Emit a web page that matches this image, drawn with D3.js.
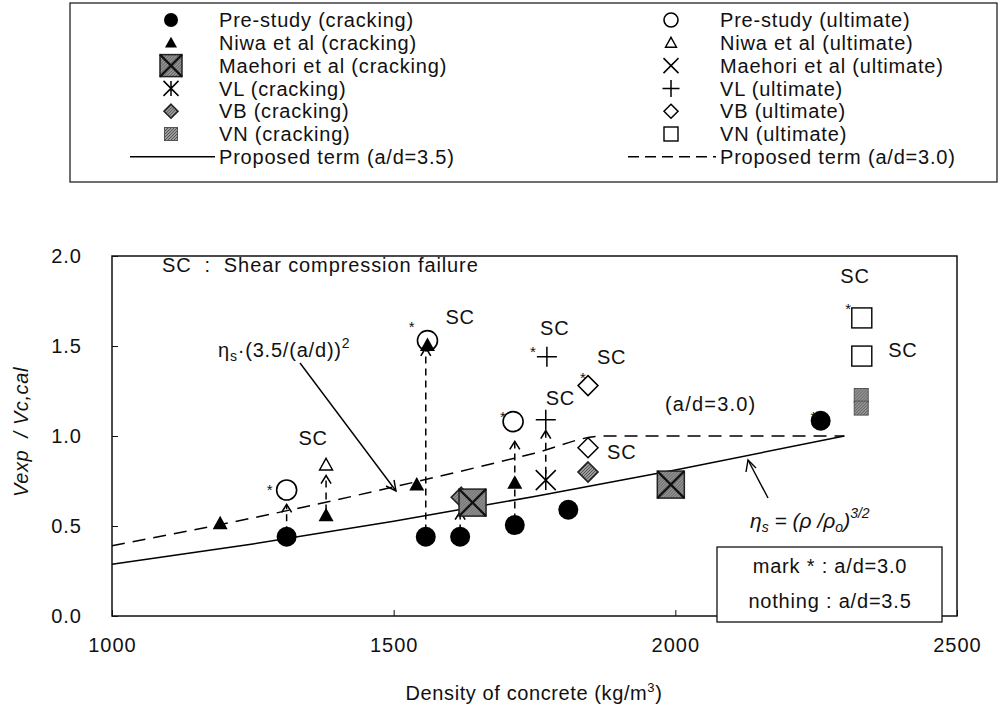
<!DOCTYPE html>
<html>
<head>
<meta charset="UTF-8">
<script src="https://d3js.org/d3.v7.min.js"></script>
<style>
  body { margin: 0; background: #fff; }
  text { font-family: "Liberation Sans", Arial, sans-serif; fill: #111; }
</style>
</head>
<body>
<div class="myDiv"></div>
<script>
// ---- data ----
var xTicks = [1000, 1500, 2000, 2500];
var yTicks = [0.0, 0.5, 1.0, 1.5, 2.0];

var preCrack = [[1310, 0.44], [1557, 0.44], [1618, 0.44], [1715, 0.505], [1810, 0.59], [2258, 1.085]];
var preUlt   = [[1310, 0.70], [1560, 1.53], [1712, 1.08]];
var niwaCrack = [[1192, 0.515], [1380, 0.56], [1541, 0.73], [1715, 0.74], [1560, 1.505]];
var niwaUlt   = [[1380, 0.84]];
var maeCrack = [[1640, 0.63], [1992, 0.73]];
var vlCrack = [[1770, 0.755]];
var vlUlt   = [[1770, 1.09], [1772, 1.44]];
var vbCrack = [[1620, 0.66], [1845, 0.80]];
var vbUlt   = [[1845, 0.935], [1845, 1.28]];
var vnCrack = [[2330, 1.225], [2330, 1.155]];
var vnUlt   = [[2331, 1.656], [2331, 1.444]];

// proposed terms
var term35 = [[1000, 0.287], [1250, 0.40], [1500, 0.527], [1750, 0.664], [2000, 0.811], [2300, 1.0]];
var term30 = [[1000, 0.39], [1250, 0.545], [1500, 0.717], [1750, 0.904], [1872, 1.0], [2300, 1.0]];

// dashed arrows cracking -> ultimate : [density, from, to]
var arrows = [[1310, 0.46, 0.62], [1380, 0.58, 0.78], [1557, 0.47, 1.49], [1618, 0.47, 0.58], [1715, 0.53, 0.97], [1770, 0.79, 1.03]];

// "SC" labels and "*" marks
var scLabels = [[1357, 0.99], [1618, 1.66], [1786, 1.60], [1887, 1.44], [1796, 1.21], [1905, 0.91], [2319, 1.89], [2404, 1.48]];
var stars = [[1280, 0.72], [1532, 1.63], [1694, 1.13], [1747, 1.49], [1836, 1.345], [2307, 1.73], [2245, 1.13]];

var legendLeft = ["Pre-study (cracking)", "Niwa et al (cracking)", "Maehori et al (cracking)", "VL (cracking)", "VB (cracking)", "VN (cracking)", "Proposed term (a/d=3.5)"];
var legendRight = ["Pre-study (ultimate)", "Niwa et al (ultimate)", "Maehori et al (ultimate)", "VL (ultimate)", "VB (ultimate)", "VN (ultimate)", "Proposed term (a/d=3.0)"];
var legendLeftMark = ["fcircle", "ftri", "maeC", "vlC", "vbC", "vnC", "solid"];
var legendRightMark = ["ocircle", "otri", "xmark", "plus", "odiam", "osq", "dashed"];

// ---- drawing ----
var width = 1001, height = 718;
var svg = d3.select(".myDiv").append("svg")
  .attr("width", width).attr("height", height);

var defs = svg.append("defs");
var pat = defs.append("pattern").attr("id", "hatch")
  .attr("patternUnits", "userSpaceOnUse").attr("width", 3).attr("height", 3);
pat.append("rect").attr("width", 3).attr("height", 3).attr("fill", "#9a9a9a");
pat.append("path").attr("d", "M0,3 L3,0").attr("stroke", "#555").attr("stroke-width", 1);

var x = d3.scaleLinear().domain([1000, 2500]).range([112, 957]);
var y = d3.scaleLinear().domain([0, 2]).range([616, 256]);

function marker(g, type, s) {
  var h = s / 2;
  if (type == "fcircle") g.append("circle").attr("r", h).attr("fill", "#000");
  if (type == "ocircle") g.append("circle").attr("r", h).attr("fill", "#fff").attr("stroke", "#000").attr("stroke-width", 1.6);
  if (type == "ftri") g.append("path").attr("d", "M0," + (-h) + "L" + h + "," + h * 0.8 + "L" + (-h) + "," + h * 0.8 + "Z").attr("fill", "#000");
  if (type == "otri") g.append("path").attr("d", "M0," + (-h) + "L" + h + "," + h * 0.8 + "L" + (-h) + "," + h * 0.8 + "Z").attr("fill", "#fff").attr("stroke", "#000").attr("stroke-width", 1.4);
  if (type == "maeC") {
    g.append("rect").attr("x", -h).attr("y", -h).attr("width", s).attr("height", s).attr("fill", "url(#hatch)").attr("stroke", "#222").attr("stroke-width", 1.5);
    g.append("path").attr("d", "M" + (-h) + "," + (-h) + "L" + h + "," + h + "M" + h + "," + (-h) + "L" + (-h) + "," + h).attr("stroke", "#111").attr("stroke-width", 2.2);
  }
  if (type == "xmark") g.append("path").attr("d", "M" + (-h) + "," + (-h) + "L" + h + "," + h + "M" + h + "," + (-h) + "L" + (-h) + "," + h).attr("stroke", "#000").attr("stroke-width", 1.5);
  if (type == "vlC") g.append("path").attr("d", "M" + (-h) + "," + (-h) + "L" + h + "," + h + "M" + h + "," + (-h) + "L" + (-h) + "," + h + "M0," + (-h) + "L0," + h).attr("stroke", "#000").attr("stroke-width", 1.5);
  if (type == "plus") g.append("path").attr("d", "M" + (-h) + ",0L" + h + ",0M0," + (-h) + "L0," + h).attr("stroke", "#000").attr("stroke-width", 1.5);
  if (type == "vbC") g.append("path").attr("d", "M0," + (-h) + "L" + h + ",0L0," + h + "L" + (-h) + ",0Z").attr("fill", "url(#hatch)").attr("stroke", "#222").attr("stroke-width", 1.6);
  if (type == "odiam") g.append("path").attr("d", "M0," + (-h) + "L" + h + ",0L0," + h + "L" + (-h) + ",0Z").attr("fill", "#fff").attr("stroke", "#000").attr("stroke-width", 1.5);
  if (type == "vnC") g.append("rect").attr("x", -h).attr("y", -h).attr("width", s).attr("height", s).attr("fill", "url(#hatch)").attr("stroke", "#555").attr("stroke-width", 1);
  if (type == "osq") g.append("rect").attr("x", -h).attr("y", -h).attr("width", s).attr("height", s).attr("fill", "#fff").attr("stroke", "#000").attr("stroke-width", 1.4);
}

// legend box
var leg = svg.append("g");
leg.append("rect").attr("x", 70).attr("y", 3).attr("width", 927).attr("height", 179)
  .attr("fill", "none").attr("stroke", "#222").attr("stroke-width", 1.3);
var rowY = function(i) { return 20 + i * 22.8; };
var legSize = { fcircle: 14, ftri: 12, maeC: 22, vlC: 15, vbC: 14, vnC: 13, ocircle: 14, otri: 11, xmark: 15, plus: 17, odiam: 14, osq: 14 };
legendLeft.forEach(function(t, i) {
  var m = legendLeftMark[i];
  if (m == "solid") {
    leg.append("line").attr("x1", 130).attr("x2", 215).attr("y1", rowY(i)).attr("y2", rowY(i)).attr("stroke", "#000").attr("stroke-width", 1.5);
  } else {
    marker(leg.append("g").attr("transform", "translate(171," + rowY(i) + ")"), m, legSize[m]);
  }
  leg.append("text").attr("x", 219).attr("y", rowY(i)).attr("dy", "0.36em").attr("font-size", 20).attr("letter-spacing", 0.8).text(t);
});
legendRight.forEach(function(t, i) {
  var m = legendRightMark[i];
  if (m == "dashed") {
    leg.append("line").attr("x1", 628).attr("x2", 716).attr("y1", rowY(i)).attr("y2", rowY(i)).attr("stroke", "#000").attr("stroke-width", 1.5).attr("stroke-dasharray", "11,6");
  } else {
    marker(leg.append("g").attr("transform", "translate(671," + rowY(i) + ")"), m, legSize[m]);
  }
  leg.append("text").attr("x", 720).attr("y", rowY(i)).attr("dy", "0.36em").attr("font-size", 20).attr("letter-spacing", 0.8).text(t);
});

// plot frame
svg.append("rect").attr("x", 112).attr("y", 256).attr("width", 845).attr("height", 360)
  .attr("fill", "none").attr("stroke", "#111").attr("stroke-width", 1.5);

var xAxis = svg.append("g").attr("transform", "translate(0,616)")
  .call(d3.axisBottom(x).tickValues(xTicks).tickSize(-6).tickPadding(22).tickFormat(d3.format("d")));
var yAxis = svg.append("g").attr("transform", "translate(112,0)")
  .call(d3.axisLeft(y).tickValues(yTicks).tickSize(-6).tickPadding(30).tickFormat(d3.format(".1f")));
[xAxis, yAxis].forEach(function(a) {
  a.select(".domain").remove();
  a.selectAll("line").attr("stroke", "#111");
  a.selectAll("text").attr("font-size", 20).attr("letter-spacing", 1).attr("font-family", "Liberation Sans, Arial, sans-serif").attr("fill", "#111");
});

var xt = svg.append("text").attr("x", 534).attr("y", 700).attr("text-anchor", "middle").attr("font-size", 20).attr("letter-spacing", 0.6);
xt.append("tspan").text("Density of concrete (kg/m");
xt.append("tspan").attr("dy", -8).attr("font-size", 13).text("3");
xt.append("tspan").attr("dy", 8).text(")");

svg.append("text").attr("transform", "translate(28,432) rotate(-90)").attr("text-anchor", "middle")
  .attr("font-size", 20).attr("letter-spacing", 0.6).attr("font-style", "italic").attr("xml:space", "preserve").text("Vexp  / Vc,cal");

// proposed terms
var line = d3.line().x(function(d) { return x(d[0]); }).y(function(d) { return y(d[1]); }).curve(d3.curveMonotoneX);
svg.append("path").datum(term35).attr("d", line).attr("fill", "none").attr("stroke", "#000").attr("stroke-width", 1.5);
svg.append("path").datum(term30).attr("d", line).attr("fill", "none").attr("stroke", "#000").attr("stroke-width", 1.5).attr("stroke-dasharray", "13,8");

// dashed arrows
arrows.forEach(function(a) {
  svg.append("line").attr("x1", x(a[0])).attr("x2", x(a[0])).attr("y1", y(a[1])).attr("y2", y(a[2]))
    .attr("stroke", "#000").attr("stroke-width", 1.5).attr("stroke-dasharray", "7,5");
  svg.append("path").attr("d", "M" + (x(a[0]) - 5) + "," + (y(a[2]) + 8) + "L" + x(a[0]) + "," + y(a[2]) + "L" + (x(a[0]) + 5) + "," + (y(a[2]) + 8))
    .attr("fill", "none").attr("stroke", "#000").attr("stroke-width", 1.6);
});

// points
function plotSeries(data, type, s) {
  data.forEach(function(d) {
    marker(svg.append("g").attr("transform", "translate(" + x(d[0]) + "," + y(d[1]) + ")"), type, s);
  });
}
plotSeries(preCrack, "fcircle", 20);
plotSeries(preUlt, "ocircle", 20);
plotSeries(niwaCrack, "ftri", 15);
plotSeries(niwaUlt, "otri", 13);
plotSeries(vbCrack, "vbC", 20);
plotSeries(maeCrack, "maeC", 27);
plotSeries(vlCrack, "vlC", 20);
plotSeries(vlUlt, "plus", 20);
plotSeries(vbUlt, "odiam", 20);
plotSeries(vnCrack, "vnC", 14);
plotSeries(vnUlt, "osq", 20);

// annotations
scLabels.forEach(function(d) {
  svg.append("text").attr("x", x(d[0])).attr("y", y(d[1])).attr("dy", "0.36em").attr("text-anchor", "middle").attr("font-size", 20).attr("letter-spacing", 0.8).text("SC");
});
stars.forEach(function(d) {
  svg.append("text").attr("x", x(d[0])).attr("y", y(d[1])).attr("dy", "0.6em").attr("text-anchor", "middle").attr("font-size", 15).text("*");
});

svg.append("text").attr("x", 162).attr("y", 272).attr("font-size", 20).attr("letter-spacing", 0.9).attr("xml:space", "preserve").text("SC  :  Shear compression failure");
svg.append("text").attr("x", 665).attr("y", 411).attr("font-size", 20).attr("letter-spacing", 1.2).text("(a/d=3.0)");

// eta_s * (3.5/(a/d))^2 label and arrow
var t1 = svg.append("text").attr("x", 218).attr("y", 357).attr("font-size", 20).attr("letter-spacing", 0.8);
t1.append("tspan").text("η");
t1.append("tspan").attr("dy", 4).attr("font-size", 14).text("s");
t1.append("tspan").attr("dy", -4).text("·(3.5/(a/d))");
t1.append("tspan").attr("dy", -9).attr("font-size", 14).text("2");
svg.append("line").attr("x1", 300).attr("y1", 363).attr("x2", 396).attr("y2", 491).attr("stroke", "#000").attr("stroke-width", 1.4);
svg.append("path").attr("d", "M386,486L396,491L394,480").attr("fill", "none").attr("stroke", "#000").attr("stroke-width", 1.4);

// eta_s = (rho/rho_o)^(3/2) label and arrow
var t2 = svg.append("text").attr("x", 750).attr("y", 528).attr("font-size", 21).attr("font-style", "italic").attr("font-family", "Liberation Serif, serif");
t2.append("tspan").text("η");
t2.append("tspan").attr("dy", 4).attr("font-size", 14).text("s");
t2.append("tspan").attr("dy", -4).text(" = (ρ /ρ");
t2.append("tspan").attr("dy", 4).attr("font-size", 14).text("o");
t2.append("tspan").attr("dy", -4).text(")");
t2.append("tspan").attr("dy", -10).attr("font-size", 14).text("3/2");
svg.append("line").attr("x1", 768).attr("y1", 498).attr("x2", 748).attr("y2", 460).attr("stroke", "#000").attr("stroke-width", 1.4);
svg.append("path").attr("d", "M746,472L748,460L756,468").attr("fill", "none").attr("stroke", "#000").attr("stroke-width", 1.4);

// mark box
svg.append("rect").attr("x", 717).attr("y", 547).attr("width", 225).attr("height", 75)
  .attr("fill", "#fff").attr("stroke", "#111").attr("stroke-width", 1.3);
svg.append("text").attr("x", 830).attr("y", 566).attr("dy", "0.36em").attr("text-anchor", "middle").attr("font-size", 20).attr("letter-spacing", 0.8).attr("xml:space", "preserve").text("mark * : a/d=3.0");
svg.append("text").attr("x", 830).attr("y", 601).attr("dy", "0.36em").attr("text-anchor", "middle").attr("font-size", 20).attr("letter-spacing", 0.8).attr("xml:space", "preserve").text("nothing : a/d=3.5");
</script>
</body>
</html>
